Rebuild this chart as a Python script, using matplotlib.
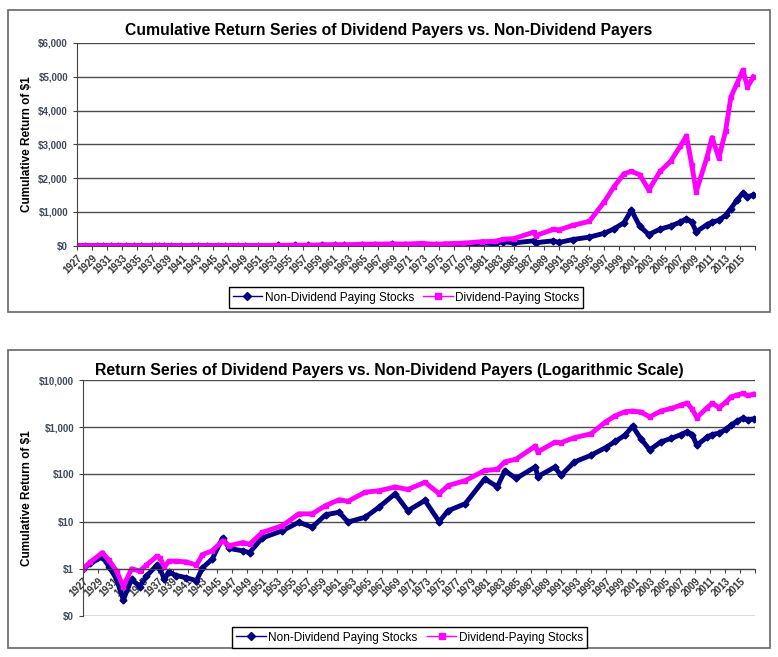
import matplotlib
matplotlib.use("Agg")
from matplotlib import pyplot as plt
from matplotlib.lines import Line2D
from matplotlib.patches import Rectangle
from matplotlib.ticker import FuncFormatter, FixedLocator

plt.rcParams['font.family'] = ['Liberation Sans', 'DejaVu Sans']

# values (cumulative value of $1)
years = [1927.0, 1928.0, 1929.6, 1930.5, 1931.5, 1932.4, 1933.5, 1934.6, 1935.5,
         1936.9, 1937.3, 1937.9, 1938.5, 1939.5, 1940.8, 1942.2, 1943.0, 1944.3,
         1945.7, 1946.6, 1948.4, 1949.3, 1951.0, 1953.7, 1955.9, 1957.7, 1959.5,
         1961.3, 1962.5, 1964.8, 1966.6, 1968.8, 1970.5, 1972.8, 1974.7, 1975.9,
         1978.2, 1980.8, 1982.5, 1983.5, 1985.0, 1987.6, 1987.9, 1990.2, 1991.0,
         1992.8, 1995.0, 1997.0, 1998.3, 1999.6, 2000.6, 2001.7, 2002.9, 2004.4,
         2005.8, 2007.1, 2007.9, 2008.6, 2009.2, 2010.6, 2011.3, 2012.2, 2013.1,
         2013.8, 2014.6, 2015.4, 2016.0, 2016.8]

div_payers = [1.0, 1.4, 2.2, 1.5, 0.9, 0.42, 1.0, 0.9, 1.2,
              1.85, 1.7, 1.1, 1.45, 1.45, 1.4, 1.2, 2.0, 2.4,
              3.9, 3.1, 3.6, 3.3, 5.9, 8.2, 14.6, 14.6, 21.9,
              29, 27, 42, 45, 54, 48, 68, 39, 58,
              74, 121, 128, 185, 210, 400, 300, 480, 470,
              600, 720, 1300, 1750, 2130, 2200, 2100, 1650, 2200,
              2500, 2950, 3250, 2400, 1600, 2600, 3200, 2600, 3400,
              4400, 4800, 5200, 4700, 5000]

non_div_payers = [1.0, 1.3, 1.8, 1.1, 0.6, 0.22, 0.6, 0.42, 0.7,
                  1.2, 1.0, 0.6, 0.85, 0.72, 0.65, 0.56, 1.05, 1.6,
                  4.5, 2.7, 2.4, 2.2, 4.5, 6.4, 9.7, 7.6, 14,
                  15.8, 9.8, 12.4, 20, 39, 17, 28, 10, 17,
                  24, 80, 55, 120, 82, 145, 90, 143, 95,
                  183, 253, 370, 500, 680, 1050, 575, 330, 490,
                  580, 700, 800, 700, 414, 620, 700, 750, 900,
                  1100, 1350, 1560, 1450, 1500]

tick_years = list(range(1927, 2018, 2))
tick_labels = [str(y) if y <= 2015 else '' for y in tick_years]

navy = '#000080'
magenta = '#FF00FF'
grid_c = '#4d4d4d'

fig = plt.figure(figsize=(7.78, 6.57), dpi=100)

# outer chart frames
for (x0, y0, x1, y1) in [(8, 10, 770, 312), (8, 350, 770, 648)]:
    fig.patches.append(Rectangle((x0 / 778, 1 - y1 / 657), (x1 - x0) / 778, (y1 - y0) / 657,
                                 transform=fig.transFigure, fill=False,
                                 edgecolor='#666666', lw=1.2))


def style_axis(ax):
    ax.set_xlim(1927, 2017)
    ax.xaxis.set_major_locator(FixedLocator(tick_years))
    ax.set_xticklabels(tick_labels, rotation=45, ha='right', rotation_mode='anchor',
                       fontsize=7, fontweight='bold', color='#333333')
    ax.tick_params(axis='x', length=3, color='#444444', pad=2)
    ax.tick_params(axis='y', length=3, color='#444444', labelsize=7, labelcolor='#3f4a5a')
    for lab in ax.get_yticklabels():
        lab.set_fontweight('bold')
    ax.yaxis.grid(True, color=grid_c, lw=1)
    ax.set_axisbelow(True)
    for s in ['top', 'right']:
        ax.spines[s].set_visible(False)
    ax.spines['left'].set_color('#444444')
    ax.spines['bottom'].set_color('#444444')
    ax.set_ylabel('Cumulative Return of $1', fontsize=8.5, fontweight='bold', labelpad=4)


def draw_series(ax):
    ax.plot(years, non_div_payers, color=navy, lw=3.5, marker='D', markersize=3.5)
    ax.plot(years, div_payers, color=magenta, lw=3.5, marker='s', markersize=3.5)


handles = [Line2D([], [], color=navy, lw=1, marker='D', markersize=4),
           Line2D([], [], color=magenta, lw=1, marker='s', markersize=4)]
names = ['Non-Dividend Paying Stocks', 'Dividend-Paying Stocks']

# top chart: linear scale
ax1 = fig.add_axes([77 / 778, 1 - 245.7 / 657, (755 - 77) / 778, (245.7 - 43) / 657])
draw_series(ax1)
ax1.set_ylim(0, 6000)
ax1.set_yticks(range(0, 6001, 1000))
ax1.yaxis.set_major_formatter(FuncFormatter(lambda v, p: '${:,.0f}'.format(v)))
style_axis(ax1)
fig.text(0.5, 1 - 30 / 657, 'Cumulative Return Series of Dividend Payers vs. Non-Dividend Payers',
         ha='center', va='center', fontsize=11.3, fontweight='bold')
fig.legend(handles, names, loc='center', bbox_to_anchor=(406 / 778, 1 - 297.5 / 657), ncol=2,
           fontsize=8.5, frameon=True, fancybox=False, edgecolor='black', framealpha=1,
           handlelength=2.5, columnspacing=0.8, handletextpad=0.2, borderpad=0.35)

# bottom chart: logarithmic scale, x axis crossing at $1
ax2 = fig.add_axes([83 / 778, 1 - 616 / 657, (755 - 83) / 778, (616 - 380) / 657])
draw_series(ax2)
ax2.set_yscale('log')
ax2.set_ylim(0.1, 10000)
ax2.spines['bottom'].set_position(('data', 1))
ax2.yaxis.set_major_locator(FixedLocator([0.1, 1, 10, 100, 1000, 10000]))
ax2.yaxis.set_minor_locator(FixedLocator([]))
ax2.yaxis.set_major_formatter(FuncFormatter(lambda v, p: '${:,.0f}'.format(v)))
style_axis(ax2)
fig.text(0.5, 1 - 370 / 657,
         'Return Series of Dividend Payers vs. Non-Dividend Payers (Logarithmic Scale)',
         ha='center', va='center', fontsize=11.3, fontweight='bold')
fig.legend(handles, names, loc='center', bbox_to_anchor=(409.5 / 778, 1 - 637.5 / 657), ncol=2,
           fontsize=8.5, frameon=True, fancybox=False, edgecolor='black', framealpha=1,
           handlelength=2.5, columnspacing=0.8, handletextpad=0.2, borderpad=0.35)

fig.savefig('out.png', dpi=100)
